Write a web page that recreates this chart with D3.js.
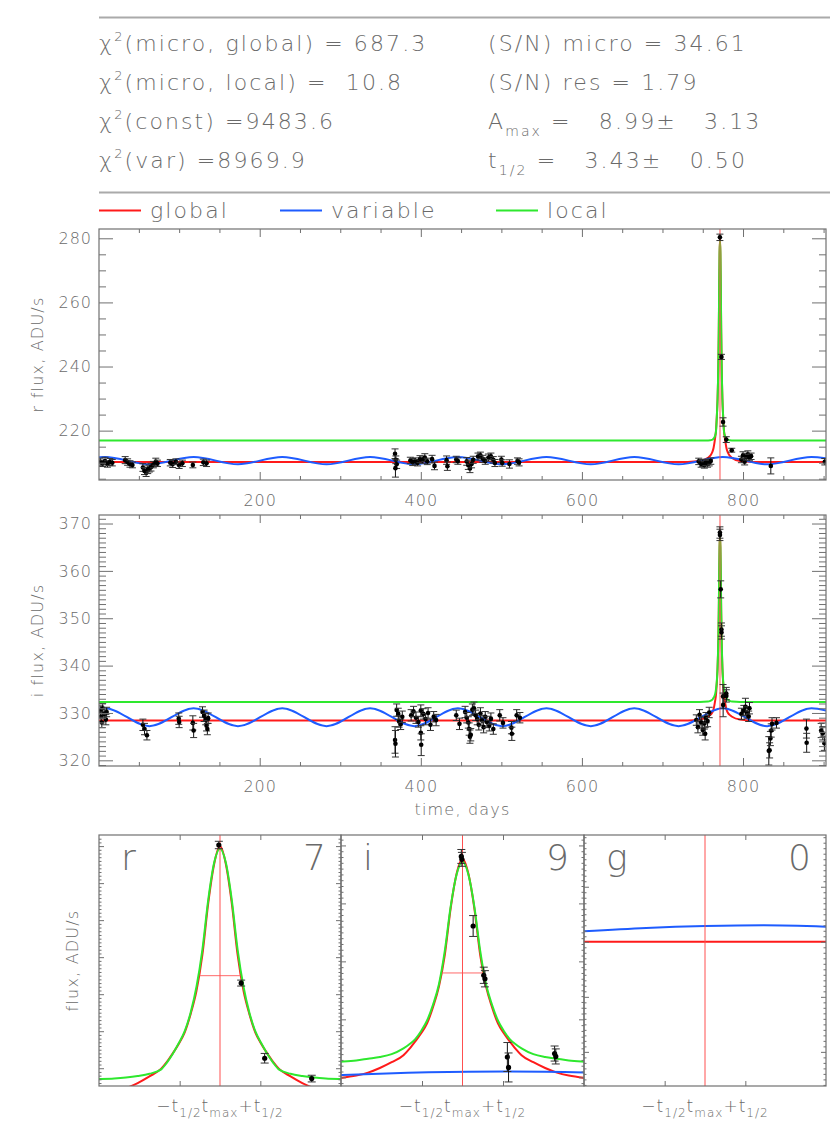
<!DOCTYPE html>
<html>
<head>
<meta charset="utf-8">
<script src="https://cdn.jsdelivr.net/npm/d3@7"></script>
<style>
  body { margin: 0; background: #fff; }
  text { font-family: "DejaVu Sans", sans-serif; fill: #6a6a6a; font-weight: 200; white-space: pre; }
</style>
</head>
<body>
<svg id="chart" width="830" height="1144"></svg>
<script>
// ---- values ----
var tMax = 771.4, tHalf = 3.43;
var dayRange = [0.5, 903];
var rRange = [204.6, 282.9], iRange = [318.8, 371.8];
var xMajor = [200, 400, 600, 800];

var statNames = ["(micro, global)", "(micro, local)", "(const)", "(var)"];
var statValues = [" = 687.3", " =  10.8", " =9483.6", " =8969.9"];
var snText = ["(S/N) micro = 34.61", "(S/N) res = 1.79"];
var aMax = ["8.99", "3.13"];
var tHalfText = ["3.43", "0.50"];
var legendNames = ["global", "variable", "local"];

var rDays = [2, 5, 8, 11, 14, 17, 33, 36, 39, 42, 55, 57, 59, 61, 63, 65, 68, 71, 73, 89, 92, 96, 100, 104, 117, 130, 134,
  368, 369, 370, 368.5, 387, 390, 393, 396, 399, 402, 405, 408, 414, 417, 432, 433, 444, 446, 457, 459, 461, 463, 465,
  471, 474, 477, 480, 484, 487, 490, 492, 500, 501, 510, 520, 522, 745, 748, 750, 752, 754, 756, 758, 760,
  771.3, 773.2, 775.2, 779.2, 786, 798, 800, 802, 804, 806, 808, 810, 834.5, 901.5];
var rFlux = [210.3, 209.8, 210.5, 209.6, 210.2, 210.0, 210.8, 210.2, 209.6, 209.3, 208.5, 207.4, 207.0, 207.8, 208.2, 208.6, 209.4, 210.3, 209.8, 210.0, 209.6, 210.3, 209.2, 209.8, 209.3, 210.1, 209.8,
  212.8, 210.9, 209.5, 208.3, 210.7, 210.2, 210.5, 210.0, 211.1, 210.8, 211.6, 210.4, 211.1, 209.0, 210.8, 208.9, 211.0, 210.5, 210.4, 209.2, 208.2, 209.6, 210.9,
  211.9, 212.3, 211.2, 210.5, 211.6, 212.0, 210.9, 209.9, 211.0, 209.9, 209.6, 210.5, 210.1, 210.4, 209.6, 209.9, 209.3, 210.1, 209.7, 210.0, 210.5,
  280.3, 243.0, 222.7, 217.2, 213.9, 211.0, 212.3, 210.3, 211.8, 212.6, 211.6, 212.0, 209.0, 210.3];
var rErr = [1.1, 1.0, 1.2, 1.0, 1.1, 1.0, 1.1, 1.0, 1.0, 0.9, 1.2, 1.1, 1.3, 1.2, 1.1, 1.2, 1.0, 1.1, 1.0, 1.0, 1.1, 0.9, 1.0, 1.0, 0.9, 1.0, 1.0,
  1.5, 1.2, 1.3, 2.8, 1.0, 1.1, 1.0, 1.0, 1.1, 1.0, 1.2, 1.0, 1.2, 1.2, 1.3, 1.3, 1.0, 1.0, 1.2, 1.3, 1.3, 1.2, 1.1,
  1.1, 1.0, 1.1, 1.0, 1.1, 1.0, 1.0, 1.1, 1.0, 1.0, 1.3, 1.0, 1.1, 1.0, 1.0, 1.1, 1.0, 1.0, 1.1, 1.0, 1.0,
  1.0, 0.8, 1.3, 0.9, 0.6, 1.0, 1.1, 1.0, 1.0, 1.1, 1.0, 1.0, 2.5, 1.0];

var iDays = [2, 3, 4, 5, 7, 9, 10, 55, 57, 60, 99.5, 100, 117, 118, 129, 131, 133, 134, 135, 136,
  368, 368.5, 370, 372, 373, 375, 377, 388, 391, 394, 397, 400, 400, 400.5, 403, 406, 409, 412, 416, 419,
  444, 448, 455, 457, 459, 460, 461, 462, 464, 466, 468, 470, 472, 474, 476, 478, 480, 482, 485, 487, 490,
  498, 502, 512.5, 513, 519, 523, 742, 744, 746, 748, 750, 752, 753, 754, 756, 758,
  771.3, 771.35, 772.3, 773.2, 773.3, 775.2, 775.3, 779.2, 779.3, 798, 801, 803, 805, 807, 808,
  832, 833, 834, 835, 836, 841.5, 878.7, 879, 897, 899, 901];
var iFlux = [330.5, 329.2, 328.0, 331.0, 329.8, 328.6, 330.2, 327.5, 326.6, 325.3, 328.8, 328.1, 327.9, 326.3, 330.2, 329.4, 328.7, 327.3, 326.6, 328.9,
  324.3, 323.5, 330.6, 329.8, 328.2, 327.6, 329.2, 329.5, 330.3, 329.0, 328.1, 330.5, 325.8, 323.3, 329.8, 328.7, 330.0, 327.5, 329.2, 328.5,
  329.5, 327.7, 330.2, 329.0, 328.0, 326.6, 325.0, 325.4, 330.7, 331.0, 329.5, 328.7, 327.5, 329.9, 328.4, 327.0, 329.2, 328.1, 327.3, 328.8, 326.6,
  329.5, 327.9, 326.9, 325.6, 329.5, 329.0, 328.5, 327.0, 329.6, 328.0, 326.4, 327.8, 325.6, 329.0, 328.3, 330.1,
  368.1, 367.6, 356.1, 347.6, 347.0, 333.5, 331.7, 334.1, 333.6, 329.8, 330.5, 331.3, 330.1, 329.3, 331.0,
  322.0, 322.1, 324.6, 326.3, 327.7, 327.9, 326.7, 323.7, 326.3, 325.7, 323.6];
var iErr = [1.0, 1.0, 1.1, 1.0, 1.0, 1.1, 1.0, 1.2, 1.2, 1.0, 1.2, 1.2, 1.5, 1.5, 1.1, 1.2, 1.2, 1.1, 1.2, 1.1,
  2.8, 2.8, 1.3, 1.2, 1.2, 1.1, 1.2, 1.2, 1.1, 1.2, 1.1, 1.2, 1.5, 2.3, 1.1, 1.2, 1.1, 1.2, 1.1, 1.2,
  1.1, 1.2, 1.2, 1.1, 1.2, 1.3, 1.4, 1.3, 1.2, 1.3, 1.1, 1.2, 1.1, 1.2, 1.1, 1.2, 1.1, 1.2, 1.1, 1.2, 1.1,
  1.2, 1.1, 1.3, 1.4, 1.2, 1.1, 1.1, 1.2, 1.1, 1.2, 1.1, 1.2, 1.3, 1.1, 1.2, 1.1,
  1.2, 1.2, 1.8, 1.4, 1.4, 2.5, 2.5, 1.3, 1.3, 1.2, 1.1, 1.8, 1.2, 1.1, 1.2,
  3.0, 1.6, 1.5, 1.4, 1.3, 1.1, 2.0, 2.0, 1.5, 1.4, 1.5];

// model curves sampled around t_max (days from t_max)
var modelDt = [-40, -25, -15, -12, -10.3, -9, -8, -7, -6, -5, -4.5, -4, -3.5, -3, -2.5, -2, -1.5, -1, -0.5, 0,
  0.5, 1, 1.5, 2, 2.5, 3, 3.5, 4, 4.5, 5, 6, 7, 8, 9, 10.3, 12, 15, 25, 40];
var globalR = [210.25, 210.5, 211.5, 212.2, 212.9, 213.7, 214.6, 216.0, 217.8, 219.9, 221.8, 224.1, 226.6, 229.7, 234.6, 240.9, 250.6, 264.6, 275.1, 280.0,
  275.1, 264.6, 250.6, 240.9, 234.6, 229.7, 226.6, 224.1, 221.8, 219.9, 217.8, 216.0, 214.6, 213.7, 212.9, 212.2, 211.5, 210.5, 210.25];
var localR = [216.9, 216.9, 216.95, 217.0, 217.1, 217.25, 217.5, 217.9, 218.5, 219.7, 221.6, 224.0, 226.8, 230.0, 235.0, 242.0, 252.0, 265.5, 275.5, 279.3,
  275.5, 265.5, 252.0, 242.0, 235.0, 230.0, 226.8, 224.0, 221.6, 219.7, 218.5, 217.9, 217.5, 217.25, 217.1, 217.0, 216.95, 216.9, 216.9];
var globalI = [328.4, 328.6, 329.2, 329.6, 329.9, 330.3, 330.8, 331.6, 332.6, 333.8, 334.9, 336.2, 337.6, 339.3, 342.1, 345.6, 351.1, 359.2, 365.1, 367.7,
  365.1, 359.2, 351.1, 345.6, 342.1, 339.3, 337.6, 336.2, 334.9, 333.8, 332.6, 331.6, 330.8, 330.3, 329.9, 329.6, 329.2, 328.6, 328.4];
var localI = [332.3, 332.3, 332.4, 332.55, 332.7, 332.9, 333.2, 333.5, 334.0, 335.0, 335.7, 336.6, 338.0, 339.8, 342.5, 346.0, 351.8, 359.5, 365.0, 367.2,
  365.0, 359.5, 351.8, 346.0, 342.5, 339.8, 338.0, 336.6, 335.7, 335.0, 334.0, 333.5, 333.2, 332.9, 332.7, 332.55, 332.4, 332.3, 332.3];

// variable (blue) model: extrema
var blueDays = [0.5, 8, 63, 118, 173, 228, 283, 337, 392, 446, 501, 556, 611, 665, 720, 775, 830, 885, 903];
var blueR = [211.7, 211.8, 209.5, 211.8, 209.5, 211.8, 209.5, 211.8, 209.5, 211.8, 209.5, 211.8, 209.5, 211.8, 209.5, 211.8, 209.5, 211.8, 211.4];
var blueI = [330.9, 331.0, 327.2, 331.0, 327.2, 331.0, 327.2, 331.0, 327.2, 331.0, 327.2, 331.0, 327.2, 331.0, 327.2, 331.0, 327.2, 331.0, 330.5];

// bottom zoom panels
var bands = ["r", "i", "g"];
var bandCounts = ["7", "9", "0"];
var zoomRanges = [[215.2, 283.0], [328.5, 371.8], [93.8, 139.4]];
var halfMax = [245.0, 348.0];
var gDt = [-10.29, -5, 0, 5, 10.29];
var blueG = [121.9, 122.5, 122.85, 123.0, 122.75];
var globalG = [120.0, 120.0, 120.0, 120.0, 120.0];

var RED = "#ff1a1a", BLUE = "#1e5cff", GREEN = "#2ee82e", AX = "#707070";

var svg = d3.select("#chart");
var defs = svg.append("defs");

// ---- header ----
svg.append("line").attr("x1", 99).attr("x2", 830).attr("y1", 17.5).attr("y2", 17.5)
    .attr("stroke", "#aaa").attr("stroke-width", 2);
svg.append("line").attr("x1", 99).attr("x2", 830).attr("y1", 192.5).attr("y2", 192.5)
    .attr("stroke", "#aaa").attr("stroke-width", 2);

var rowY = [51, 90, 129, 168];
function headText(xx, yy) {
    return svg.append("text").attr("x", xx).attr("y", yy)
        .style("font-size", "22px").style("letter-spacing", "2.1px");
}
statNames.forEach(function(s, k) {
    var t = headText(99, rowY[k]);
    t.append("tspan").text("χ");
    t.append("tspan").attr("dy", -10).style("font-size", "13px").text("2");
    t.append("tspan").attr("dy", 10).text(s + statValues[k]);
});
snText.forEach(function(s, k) {
    headText(488, rowY[k]).text(s);
});
var ta = headText(488, rowY[2]);
ta.append("tspan").text("A");
ta.append("tspan").attr("dy", 7).style("font-size", "14px").text("max");
ta.append("tspan").attr("dy", -7).text(" =   " + aMax[0] + "±   " + aMax[1]);
var tt = headText(488, rowY[3]);
tt.append("tspan").text("t");
tt.append("tspan").attr("dy", 7).style("font-size", "14px").text("1/2");
tt.append("tspan").attr("dy", -7).text(" =   " + tHalfText[0] + "±   " + tHalfText[1]);

var legX = [99, 280, 496];
[RED, BLUE, GREEN].forEach(function(c, k) {
    svg.append("line").attr("x1", legX[k]).attr("x2", legX[k] + 42).attr("y1", 210.5).attr("y2", 210.5)
        .attr("stroke", c).attr("stroke-width", 2);
    headText(legX[k] + 51, 218).text(legendNames[k]);
});

// ---- helpers ----
function frame(g, x0, y0, x1, y1) {
    g.append("rect").attr("x", x0).attr("y", y0).attr("width", x1 - x0).attr("height", y1 - y0)
        .attr("fill", "none").attr("stroke", AX).attr("stroke-width", 1.2);
}

function styleAxis(a) {
    a.select(".domain").remove();
    a.selectAll("line").attr("stroke", AX);
    a.selectAll("text").style("font-size", "16px").style("letter-spacing", "1px").attr("fill", "#6a6a6a");
}

function yTicks(g, y, x0, x1, major, minor, lenMaj, lenMin, labels) {
    var d = y.domain();
    var maj = d3.range(Math.ceil(d[0] / major) * major, d[1], major);
    var mnr = d3.range(Math.ceil(d[0] / minor) * minor, d[1], minor).filter(function(v) {
        return Math.abs(v / major - Math.round(v / major)) > 1e-6;
    });
    [[maj, lenMaj], [mnr, lenMin]].forEach(function(p, k) {
        g.append("g").attr("transform", "translate(" + x0 + ",0)")
            .call(d3.axisLeft(y).tickValues(p[0]).tickSize(-p[1]).tickPadding(7)
                .tickFormat(labels && k === 0 ? d3.format("d") : ""))
            .call(styleAxis);
        g.append("g").attr("transform", "translate(" + x1 + ",0)")
            .call(d3.axisRight(y).tickValues(p[0]).tickSize(-p[1]).tickFormat(""))
            .call(styleAxis);
    });
}

function xTicks(g, x, y0, y1, majors, minors, lenMaj, lenMin, labels) {
    [[majors, lenMaj], [minors, lenMin]].forEach(function(p, k) {
        g.append("g").attr("transform", "translate(0," + y1 + ")")
            .call(d3.axisBottom(x).tickValues(p[0]).tickSize(-p[1]).tickPadding(15)
                .tickFormat(labels && k === 0 ? d3.format("d") : ""))
            .call(styleAxis);
        g.append("g").attr("transform", "translate(0," + y0 + ")")
            .call(d3.axisTop(x).tickValues(p[0]).tickSize(-p[1]).tickFormat(""))
            .call(styleAxis);
    });
}

function clipFor(id, x0, y0, x1, y1) {
    defs.append("clipPath").attr("id", id).append("rect")
        .attr("x", x0).attr("y", y0).attr("width", x1 - x0).attr("height", y1 - y0);
    return "url(#" + id + ")";
}

function curve(g, xs, ys, color, xf, yf) {
    var pts = xs.map(function(v, k) { return [xf(v), yf(ys[k])]; });
    g.append("path").attr("d", d3.line().curve(d3.curveMonotoneX)(pts))
        .attr("fill", "none").attr("stroke", color).attr("stroke-width", 2);
}

function points(g, days, flux, err, xf, yf, keep, cap, rad) {
    days.forEach(function(d, k) {
        if (!keep(d)) return;
        var px = xf(d), lo = yf(flux[k] - err[k]), hi = yf(flux[k] + err[k]);
        g.append("line").attr("x1", px).attr("x2", px).attr("y1", lo).attr("y2", hi)
            .attr("stroke", "#111").attr("stroke-width", 1);
        [lo, hi].forEach(function(yy) {
            g.append("line").attr("x1", px - cap).attr("x2", px + cap).attr("y1", yy).attr("y2", yy)
                .attr("stroke", "#333").attr("stroke-width", 1);
        });
        g.append("circle").attr("cx", px).attr("cy", yf(flux[k])).attr("r", rad).attr("fill", "#000");
    });
}

// ---- main light-curve panels ----
var x = d3.scaleLinear().domain(dayRange).range([99, 826]);
var xMinor = d3.range(50, 903, 50).filter(function(v) { return v % 200 !== 0; });

var mainPanels = [
    {top: 229, bottom: 480, dom: rRange, major: 20, minor: 5, days: rDays, flux: rFlux, err: rErr,
     blue: blueR, glob: globalR, loc: localR, label: "r flux, ADU/s"},
    {top: 515, bottom: 766, dom: iRange, major: 10, minor: 1, days: iDays, flux: iFlux, err: iErr,
     blue: blueI, glob: globalI, loc: localI, label: "i flux, ADU/s"}
];

mainPanels.forEach(function(p, n) {
    var y = d3.scaleLinear().domain(p.dom).range([p.bottom, p.top]);
    var g = svg.append("g");
    var c = g.append("g").attr("clip-path", clipFor("main" + n, 99, p.top, 826, p.bottom));

    var modelDays = [dayRange[0]].concat(modelDt.map(function(v) { return tMax + v; }), [dayRange[1]]);
    var gl = [p.glob[0]].concat(p.glob, [p.glob[p.glob.length - 1]]);
    var lc = [p.loc[0]].concat(p.loc, [p.loc[p.loc.length - 1]]);
    curve(c, modelDays, gl, RED, x, y);
    curve(c, blueDays, p.blue, BLUE, x, y);
    curve(c, modelDays, lc, GREEN, x, y);
    c.append("line").attr("x1", x(tMax)).attr("x2", x(tMax)).attr("y1", p.top).attr("y2", p.bottom)
        .attr("stroke", "#ff5050").attr("stroke-width", 1);
    points(c, p.days, p.flux, p.err, x, y, function() { return true; }, 3.5, 2.3);

    frame(g, 99, p.top, 826, p.bottom);
    yTicks(g, y, 99, 826, p.major, p.minor, 14, 7, true);
    xTicks(g, x, p.top, p.bottom, xMajor, xMinor, 8, 4, true);

    g.append("text").attr("transform", "translate(43," + (p.top + p.bottom) / 2 + ") rotate(-90)")
        .attr("text-anchor", "middle").style("font-size", "16px").style("letter-spacing", "1.2px").text(p.label);
});

svg.append("text").attr("x", 462.5).attr("y", 815).attr("text-anchor", "middle")
    .style("font-size", "16px").style("letter-spacing", "1.2px").text("time, days");

// ---- zoom panels around t_max ----
var zx0 = [99, 341, 584], zx1 = [341, 584, 826];
var zTop = 835, zBot = 1086;
var zoomData = [
    {days: rDays, flux: rFlux, err: rErr, glob: globalR, loc: localR, blueX: null},
    {days: iDays, flux: iFlux, err: iErr, glob: globalI, loc: localI, blueX: blueDays, blue: blueI},
    {days: [], flux: [], err: [], glob: null, loc: null}
];

bands.forEach(function(b, n) {
    var zx = d3.scaleLinear().domain([-3 * tHalf, 3 * tHalf]).range([zx0[n], zx1[n]]);
    var zy = d3.scaleLinear().domain(zoomRanges[n]).range([zBot, zTop]);
    var d = zoomData[n];
    var g = svg.append("g");
    var c = g.append("g").attr("clip-path", clipFor("zoom" + n, zx0[n], zTop, zx1[n], zBot));

    if (n < 2) {
        curve(c, modelDt, d.glob, RED, zx, zy);
        curve(c, modelDt, d.loc, GREEN, zx, zy);
        if (d.blueX) curve(c, d.blueX.map(function(v) { return v - tMax; }), d.blue, BLUE, zx, zy);
        c.append("line").attr("x1", zx(-tHalf / 2)).attr("x2", zx(tHalf / 2))
            .attr("y1", zy(halfMax[n])).attr("y2", zy(halfMax[n]))
            .attr("stroke", "#ff6a6a").attr("stroke-width", 1);
    } else {
        curve(c, gDt, globalG, RED, zx, zy);
        curve(c, gDt, blueG, BLUE, zx, zy);
    }
    c.append("line").attr("x1", zx(0)).attr("x2", zx(0)).attr("y1", zTop).attr("y2", zBot)
        .attr("stroke", "#ff5050").attr("stroke-width", 1);
    points(c, d.days.map(function(v) { return v - tMax; }), d.flux, d.err, zx, zy,
        function(v) { return Math.abs(v) <= 3 * tHalf; }, 4, 2.6);

    frame(g, zx0[n], zTop, zx1[n], zBot);
    yTicks(g, zy, zx0[n], zx1[n], 10, 1, 5, 2.5, false);
    xTicks(g, zx, zTop, zBot, [-tHalf, tHalf], [], 5, 0, false);

    g.append("text").attr("x", zx0[n] + 22).attr("y", 870).style("font-size", "36px").attr("fill", "#808080").text(b);
    g.append("text").attr("x", zx1[n] - 15).attr("y", 870).attr("text-anchor", "end")
        .style("font-size", "36px").attr("fill", "#808080").text(bandCounts[n]);

    var lab = g.append("text").attr("x", zx(0)).attr("y", 1112).attr("text-anchor", "middle")
        .style("font-size", "17px").style("letter-spacing", "1px");
    lab.append("tspan").text("−t");
    lab.append("tspan").attr("dy", 5).style("font-size", "12px").text("1/2");
    lab.append("tspan").attr("dy", -5).text("t");
    lab.append("tspan").attr("dy", 5).style("font-size", "12px").text("max");
    lab.append("tspan").attr("dy", -5).text("+t");
    lab.append("tspan").attr("dy", 5).style("font-size", "12px").text("1/2");
});

svg.append("text").attr("transform", "translate(78," + (zTop + zBot) / 2 + ") rotate(-90)")
    .attr("text-anchor", "middle").style("font-size", "16px").style("letter-spacing", "1.2px").text("flux, ADU/s");
</script>
</body>
</html>
